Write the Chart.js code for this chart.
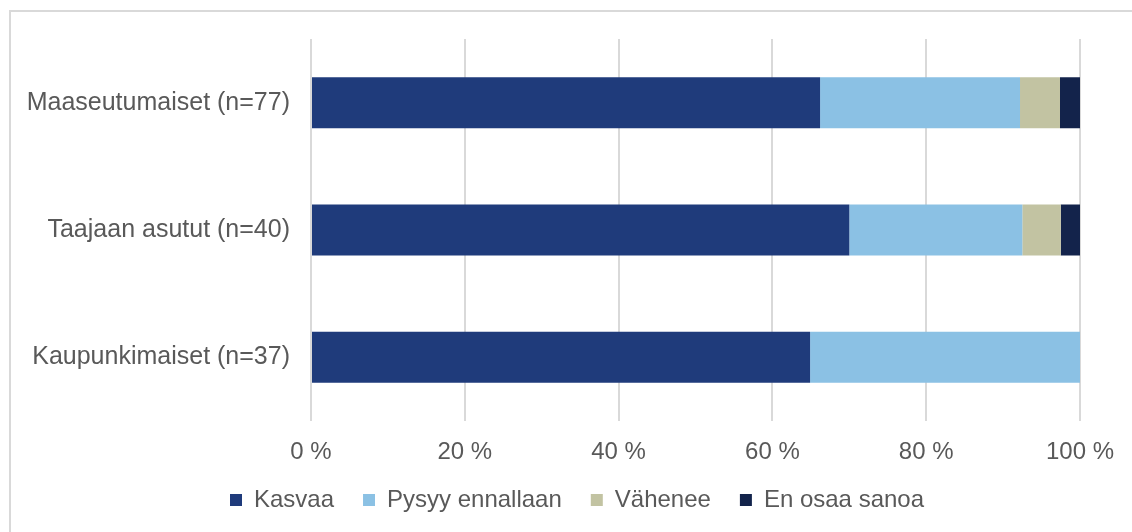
<!DOCTYPE html>
<html>
<head>
<meta charset="utf-8">
<script src="https://cdn.jsdelivr.net/npm/chart.js@4"></script>
<style>
  html, body { margin: 0; padding: 0; background: #fff; overflow: hidden; }
  #frame { position: absolute; left: 9px; top: 10px; width: 1200px; height: 600px;
           border-top: 2px solid #d9d9d9; border-left: 2px solid #d9d9d9; }
  #wrap { position: absolute; left: 0; top: 0; width: 1132px; height: 532px; }
</style>
</head>
<body>
<div id="frame"></div>
<div id="wrap"><canvas id="chart"></canvas></div>
<script>
// Categories and series (share of answers, %)
const categories = ['Maaseutumaiset (n=77)', 'Taajaan asutut (n=40)', 'Kaupunkimaiset (n=37)'];
const kasvaa = [66.2, 70.0, 64.9];
const pysyy = [26.0, 22.5, 35.1];
const vahenee = [5.2, 5.0, 0];
const enOsaa = [2.6, 2.5, 0];
const xTicks = [0, 20, 40, 60, 80, 100];

const seriesNames = ['Kasvaa', 'Pysyy ennallaan', 'Vähenee', 'En osaa sanoa'];
const seriesColors = ['#1f3b7b', '#8bc1e4', '#c2c3a2', '#13234b'];
const seriesData = [kasvaa, pysyy, vahenee, enOsaa];

Chart.defaults.font.family = '"Liberation Sans", Arial, sans-serif';
Chart.defaults.font.size = 24;
Chart.defaults.color = '#595959';

// legend sits a bit right of canvas centre in the original
const legendShift = {
  id: 'legendShift',
  afterLayout(chart) {
    chart.legend.left += 37;
    chart.legend.right += 37;
  }
};

new Chart(document.getElementById('chart'), {
  type: 'bar',
  data: {
    labels: categories,
    datasets: seriesNames.map((name, i) => ({
      label: name,
      data: seriesData[i],
      backgroundColor: seriesColors[i],
      borderWidth: 0,
      categoryPercentage: 0.8,
      barPercentage: 0.5
    }))
  },
  options: {
    indexAxis: 'y',
    responsive: true,
    maintainAspectRatio: false,
    animation: false,
    layout: { padding: { top: 39, right: 52, bottom: 10, left: 0 } },
    scales: {
      x: {
        stacked: true,
        min: 0, max: 100,
        afterBuildTicks: s => { s.ticks = xTicks.map(v => ({ value: v })); },
        afterFit: s => { s.height = 38; },
        grid: { color: '#d9d9d9', lineWidth: 2, drawTicks: false },
        border: { display: false },
        ticks: { padding: 17, callback: v => v + ' %' }
      },
      y: {
        stacked: true,
        afterFit: s => { s.width = 311; },
        grid: { display: false, drawTicks: false },
        border: { display: false },
        ticks: { padding: 21, font: { size: 25 } }
      }
    },
    plugins: {
      legend: {
        position: 'bottom',
        labels: { boxWidth: 12, boxHeight: 12, padding: 29 }
      },
      tooltip: { enabled: false }
    }
  },
  plugins: [legendShift]
});
</script>
</body>
</html>
